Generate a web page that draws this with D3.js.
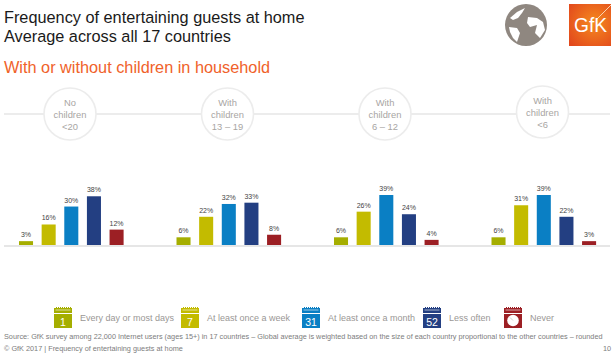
<!DOCTYPE html>
<html><head><meta charset="utf-8">
<style>html,body{margin:0;padding:0;background:#fff}svg{display:block}text{font-family:"Liberation Sans",Arial,sans-serif}</style>
<script src="https://cdn.jsdelivr.net/npm/d3@7/dist/d3.min.js"></script></head>
<body><svg id="c" width="616" height="355"></svg>
<script>
const groups = ["No children <20","With children 13 – 19","With children 6 – 12","With children <6"];
const groupLines = [["No","children","<20"],["With","children","13 – 19"],["With","children","6 – 12"],["With","children","<6"]];
const categories = ["Every day or most days","At least once a week","At least once a month","Less often","Never"];
const iconLabels = ["1","7","31","52",""];
const colors = ["#a5ae00","#c3bb00","#0a7fc4","#233f82","#9c1f24"];
const noChildren = [3,16,30,38,12];
const children13to19 = [6,22,32,33,8];
const children6to12 = [6,26,39,24,4];
const childrenUnder6 = [6,31,39,22,3];
const seriesValues = [noChildren,children13to19,children6to12,childrenUnder6];
const legendX = [54,181,302,423,504];
const legendTextX = [80,207,328,449,530];

const svg = d3.select("#c");
const x0 = d3.scaleBand().domain(groups).range([19,649]);
const x1 = d3.scaleBand().domain(categories).range([0,104.6]).paddingInner(0.38);
const y = d3.scaleLinear().domain([0,39]).range([245,195]);

const title = svg.append("g").attr("fill","#1a1a1a").style("font-size","16.3px");
title.append("text").attr("x",4).attr("y",23).text("Frequency of entertaining guests at home");
title.append("text").attr("x",4).attr("y",42).text("Average across all 17 countries");
svg.append("text").attr("x",4).attr("y",73).attr("fill","#f0622a").style("font-size","16.3px").text("With or without children in household");

// header rule and circles
svg.append("line").attr("x1",4).attr("x2",610).attr("y1",114).attr("y2",114).attr("stroke","#ececec").attr("stroke-width",2.2);
const heads = svg.selectAll("g.head").data(groups).join("g").attr("class","head")
  .attr("transform",(d,i)=>`translate(${x0(d)+51},${i==3?112:114})`);
heads.append("circle").attr("r",26).attr("fill","#fff").attr("stroke","#ececec").attr("stroke-width",1.6);
heads.each(function(d,i){
  d3.select(this).selectAll("text").data(groupLines[i]).join("text")
   .attr("text-anchor","middle").attr("y",(t,j)=>-8+j*12).attr("fill","#a8a5a3").style("font-size","9.4px").text(t=>t);
});

// baseline
svg.append("line").attr("x1",4).attr("x2",610).attr("y1",246).attr("y2",246).attr("stroke","#e6e6e6").attr("stroke-width",2);

// bars
const gs = svg.selectAll("g.grp").data(groups).join("g").attr("class","grp").attr("transform",d=>`translate(${x0(d)},0)`);
gs.each(function(g,gi){
  const sel = d3.select(this);
  const rows = seriesValues[gi].map((v,i)=>({v,c:categories[i],i}));
  sel.selectAll("rect").data(rows).join("rect")
    .attr("x",d=>x1(d.c)).attr("width",x1.bandwidth())
    .attr("y",d=>y(d.v)).attr("height",d=>y(0)-y(d.v))
    .attr("fill",d=>colors[d.i]);
  sel.selectAll("text").data(rows).join("text")
    .attr("x",d=>x1(d.c)+x1.bandwidth()/2).attr("y",d=>y(d.v)-4)
    .attr("text-anchor","middle").attr("fill","#444").style("font-size","7px").text(d=>d.v+"%");
});

// legend
const leg = svg.selectAll("g.leg").data(categories).join("g").attr("class","leg");
leg.each(function(c,i){
  const g = d3.select(this).attr("transform",`translate(${legendX[i]},308)`);
  g.append("rect").attr("y",0).attr("width",18).attr("height",20).attr("fill",colors[i]);
  d3.range(2,17,2).forEach(dx=>g.append("rect").attr("x",dx).attr("y",-1).attr("width",1).attr("height",2.5).attr("fill",colors[i]));
  g.append("rect").attr("x",1.5).attr("y",1.5).attr("width",15).attr("height",1).attr("fill","#fff").attr("opacity",.6);
  g.append("rect").attr("y",5).attr("width",18).attr("height",1).attr("fill","#fff");
  if(iconLabels[i]) g.append("text").attr("x",9).attr("y",17.5).attr("text-anchor","middle").attr("fill","#fff").style("font-size","10.5px").style("font-weight","300").text(iconLabels[i]);
  else {
    g.append("circle").attr("cx",9).attr("cy",12.5).attr("r",5.8).attr("fill","#fff");
    g.append("line").attr("x1",9).attr("y1",12.5).attr("x2",6).attr("y2",9.5).attr("stroke","#bbb").attr("stroke-width",.7);
  }
  d3.select(this).append("text").attr("x",legendTextX[i]-legendX[i]).attr("y",13).attr("fill","#9a9795").style("font-size","9px").text(c);
});

// footer
const foot = svg.append("g").attr("fill","#7d7d7d").style("font-size","7.3px");
foot.append("text").attr("x",4).attr("y",339).text("Source: GfK survey among 22,000 Internet users (ages 15+) in 17 countries – Global average is weighted based on the size of each country proportional to the other countries – rounded");
foot.append("text").attr("x",4).attr("y",351).text("© GfK 2017 | Frequency of entertaining guests at home");
foot.append("text").attr("x",611).attr("y",351).attr("text-anchor","end").text("10");

// globe
const globe = svg.append("g").attr("transform","translate(526,25)");
globe.append("circle").attr("r",21).attr("fill","#8f8780");
const land = ["M-16,-7 L-9,-13 L-1,-17 L-4,-12 L-8,-7 L-13,-5 Z",
 "M-17,2 L-9,3 L-6,8 L-9,17 L-13,13 L-16,7 Z",
 "M2,-8 L11,-7 L17,-3 L19,5 L14,13 L9,8 L11,0 L4,2 L1,-2 Z"];
globe.selectAll("path").data(land).join("path").attr("fill","#fff").attr("d",d=>d);

// logo
const grad = svg.append("defs").append("radialGradient").attr("id","lg").attr("cx",".6").attr("cy",".45").attr("r",".75");
grad.append("stop").attr("offset","0").attr("stop-color","#f58a1f");
grad.append("stop").attr("offset","1").attr("stop-color","#e2481c");
svg.append("rect").attr("x",569).attr("y",4).attr("width",42).attr("height",42).attr("fill","url(#lg)");
svg.append("line").attr("x1",597).attr("y1",19).attr("x2",611).attr("y2",5).attr("stroke","#fbd2b0").attr("stroke-width",1);
svg.append("text").attr("x",574).attr("y",32).attr("fill","#fff").style("font-size","19.5px").attr("textLength",33).attr("lengthAdjust","spacingAndGlyphs").text("GfK");
</script></body></html>
